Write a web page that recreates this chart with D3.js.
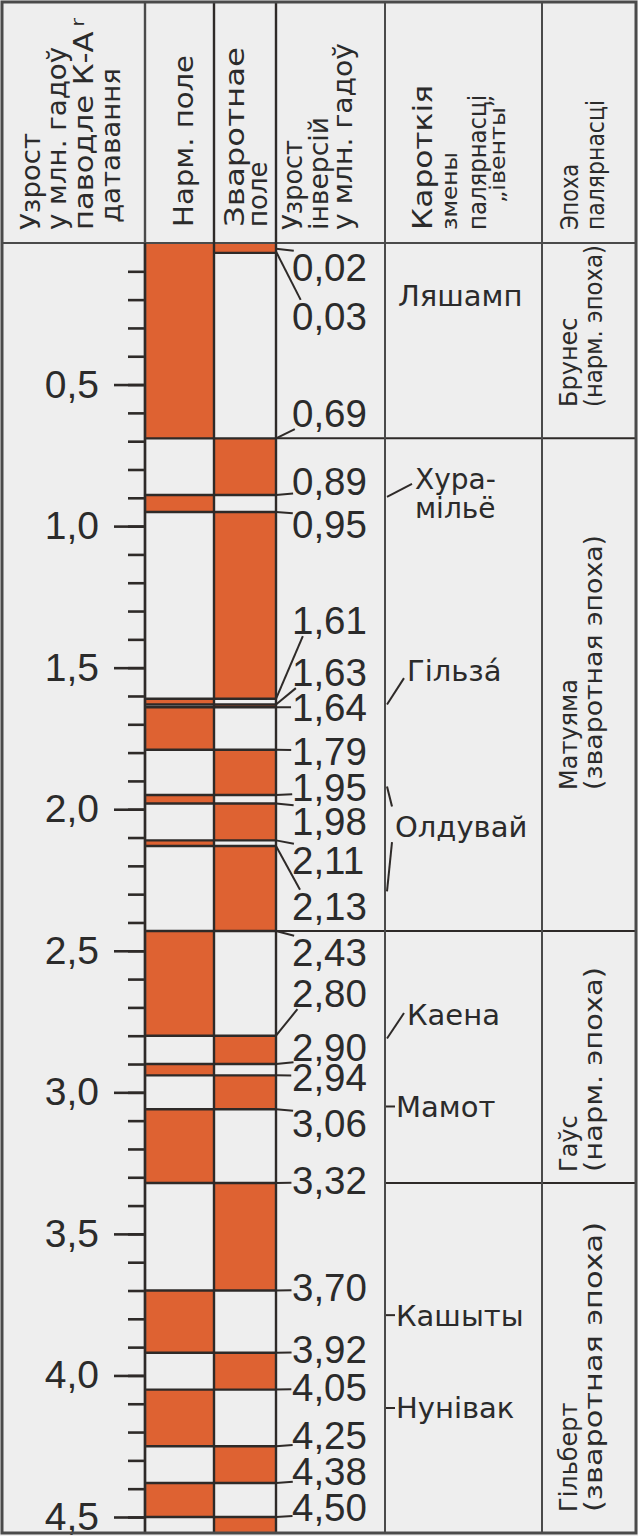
<!DOCTYPE html>
<html><head><meta charset="utf-8">
<script src="https://cdn.jsdelivr.net/npm/d3@7"></script>
<style>body{margin:0;background:#fff}svg{display:block}</style>
</head><body>
<script>
// ---------------- data ----------------
const inversions = ["0,02","0,03","0,69","0,89","0,95","1,61","1,63","1,64","1,79","1,95","1,98","2,11","2,13","2,43","2,80","2,90","2,94","3,06","3,32","3,70","3,92","4,05","4,25","4,38","4,50"];
const inversionAges = [0.02,0.03,0.69,0.89,0.95,1.61,1.63,1.64,1.79,1.95,1.98,2.11,2.13,2.43,2.80,2.90,2.94,3.06,3.32,3.70,3.92,4.05,4.25,4.38,4.50];
const normalIntervals = [[0,0.69],[0.89,0.95],[1.61,1.63],[1.64,1.79],[1.95,1.98],[2.11,2.13],[2.43,2.80],[2.90,2.94],[3.06,3.32],[3.70,3.92],[4.05,4.25],[4.38,4.50]];
const reversedIntervals = [[0,0.035],[0.69,0.89],[0.95,1.61],[1.63,1.64],[1.79,1.95],[1.98,2.11],[2.13,2.43],[2.80,2.90],[2.94,3.06],[3.32,3.70],[3.92,4.05],[4.25,4.38],[4.50,4.556]];
const majorTicks = [0.5,1.0,1.5,2.0,2.5,3.0,3.5,4.0,4.5];
const tickLabels = ["0,5","1,0","1,5","2,0","2,5","3,0","3,5","4,0","4,5"];
const eventNames = [["Ляшамп"],["Хура-","мільё"],["Гільза́"],["Олдувай"],["Каена"],["Мамот"],["Кашыты"],["Нунівак"]];
const epochNames = [["Брунес","(нарм. эпоха)"],["Матуяма","(зваротная эпоха)"],["Гаўс","(нарм. эпоха)"],["Гільберт","(зваротная эпоха)"]];
const epochBounds = [[0,0.69],[0.69,2.43],[2.43,3.32],[3.32,4.556]];
const headers = [
  ["Узрост","у млн. гадоў","паводле К-А","датавання"],
  ["Нарм. поле"],
  ["Зваротнае","поле"],
  ["Узрост","інверсій","у млн. гадоў"],
  ["Кароткія","змены","палярнасці","„івенты”"],
  ["Эпоха","палярнасці"]
];
// ---------------- layout (annotation placement) ----------------
const inversionLabelAt = [0.085,0.258,0.600,0.841,0.993,1.331,1.515,1.639,1.794,1.922,2.042,2.179,2.342,2.504,2.649,2.840,2.946,3.109,3.310,3.688,3.907,4.041,4.211,4.338,4.465];
const eventLabelAt = [0.187,0.885,1.51,2.06,2.727,3.05,3.787,4.115];
const eventLeaders = [[],[[0.897,0.851]],[[1.63,1.537]],[[1.92,1.99],[2.29,2.116]],[[2.81,2.72]],"dash","dash","dash"];
const eventX = [398,415,407,395,407,396,396,396];
const epochLabelBottom = [407,790,1172,1512];
const epochLen = [[null,162],[null,255],[null,205],[null,290]];
const epochLineStart = [276,276,385];
const hdrX=[[40,66,93,120],[193],[244,267],[302,328,352],[432,457,486,505],[578,604]];
const hdrSize=[[26,26,26,26],[27],[27,26],[26,26,26],[27,21,25,21],[24,24]];
const hdrBottom=[[230,230,230,223],[227],[227,227],[230,230,230],[230,230,230,203],[230,230]];
const hdrLen=[[97,183,212,155],[172],[180,null],[90,113,187],[145,78,135,108],[66,130]];

// ---------------- drawing ----------------
const W=638,H=1536;
const ORANGE="#DE6232", INK="#2e2a28", PAPER="#EEEEEE", GRID="#4a4a4a", TEXT="#2b2b2b";
const X={left:3,c1:145,c2:214,c3:276,c4:385,c5:542,right:635};
const yTop=243, yBot=1532;
const y=d3.scaleLinear().domain([0,4.5]).range([yTop,1517]);

const svg=d3.select("body").append("svg").attr("width",W).attr("height",H);
svg.append("rect").attr("width",W).attr("height",H).attr("fill",PAPER);

const NUM="'Liberation Sans', Arial, sans-serif";
const TXT="'DejaVu Sans', 'Noto Sans', sans-serif";

// bars
const bars=svg.append("g");
bars.selectAll(".n").data(normalIntervals).join("rect")
  .attr("x",X.c1).attr("width",X.c2-X.c1)
  .attr("y",d=>y(d[0])).attr("height",d=>Math.max(0,Math.min(y(d[1]),yBot)-y(d[0])))
  .attr("fill",ORANGE);
bars.selectAll(".r").data(reversedIntervals).join("rect")
  .attr("x",X.c2).attr("width",X.c3-X.c2)
  .attr("y",d=>y(d[0])).attr("height",d=>Math.max(0,Math.min(y(d[1]),yBot)-y(d[0])))
  .attr("fill",ORANGE);

// boundary lines across both polarity columns
const lines=svg.append("g").attr("stroke",INK).attr("stroke-width",2.4);
lines.selectAll("line.b").data(inversionAges.filter(a=>a>0.05)).join("line")
  .attr("x1",X.c1).attr("x2",X.c3+1).attr("y1",d=>y(d)).attr("y2",d=>y(d));
lines.append("line").attr("x1",X.c2).attr("x2",X.c3+1)
  .attr("y1",y(reversedIntervals[0][1])).attr("y2",y(reversedIntervals[0][1]));

// epoch boundaries across the right part
const epochLines=svg.append("g").attr("stroke",INK).attr("stroke-width",2);
epochLines.selectAll("line").data(epochBounds.slice(1).map(d=>d[0])).join("line")
  .attr("x1",(d,i)=>epochLineStart[i]).attr("x2",X.right).attr("y1",d=>y(d)).attr("y2",d=>y(d));

// axis ticks
const minorAxis=d3.axisLeft(y).ticks(45).tickSize(17).tickFormat("");
const gMinor=svg.append("g").attr("transform",`translate(${X.c1},0)`).call(minorAxis);
gMinor.select(".domain").remove();
gMinor.selectAll(".tick").filter(d=>d<0.05).remove();
gMinor.selectAll("line").attr("stroke",INK).attr("stroke-width",2.6);
const majorAxis=d3.axisLeft(y).tickValues(majorTicks).tickSize(31).tickPadding(15)
  .tickFormat((d,i)=>tickLabels[i]);
const gMajor=svg.append("g").attr("transform",`translate(${X.c1},0)`).call(majorAxis);
gMajor.select(".domain").remove();
gMajor.selectAll("line").attr("stroke",INK).attr("stroke-width",2.6);
gMajor.selectAll("text").attr("font-family",NUM).attr("font-size",39).attr("fill",TEXT);

// inversion labels + leaders
const inv=svg.append("g");
inversions.forEach((lab,i)=>{
  const yb=y(inversionAges[i]), yl=y(inversionLabelAt[i]);
  const dy=yl-yb;
  const off=Math.max(-18,Math.min(18,dy))*0.9;
  const ex=X.c3+15+Math.min(12,Math.abs(dy)*0.15);
  const ey=yl-off;
  inv.append("line").attr("x1",X.c3).attr("y1",yb).attr("x2",ex).attr("y2",ey)
    .attr("stroke",INK).attr("stroke-width",2);
  inv.append("text").attr("x",X.c3+16).attr("y",yl).attr("dy","0.36em")
    .attr("font-family",NUM).attr("font-size",38.5).attr("fill",TEXT).text(lab);
});

// event labels
const ev=svg.append("g");
eventNames.forEach((lines_,i)=>{
  const yc=y(eventLabelAt[i]);
  const n=lines_.length, lh=29;
  lines_.forEach((t,k)=>{
    ev.append("text").attr("x",eventX[i]).attr("y",yc+(k-(n-1)/2)*lh).attr("dy","0.36em")
      .attr("font-family",TXT).attr("font-size",n>1?28:29).attr("fill",TEXT).text(t);
  });
  const L=eventLeaders[i];
  if(L==="dash"){
    ev.append("line").attr("x1",X.c4+1).attr("x2",X.c4+10).attr("y1",yc).attr("y2",yc)
      .attr("stroke",INK).attr("stroke-width",2);
  } else {
    L.forEach(([a1,a2])=>{
      ev.append("line").attr("x1",X.c4+2).attr("y1",y(a1)).attr("x2",eventX[i]-3).attr("y2",y(a2))
        .attr("stroke",INK).attr("stroke-width",2);
    });
  }
});

// epoch labels (rotated)
const ep=svg.append("g");
epochNames.forEach((nm,i)=>{
  const yb=epochLabelBottom[i];
  [577,602].forEach((bx,k)=>{
    const t=ep.append("text").attr("transform",`translate(${bx},${yb}) rotate(-90)`)
      .attr("font-family",TXT).attr("font-size",24).attr("fill",TEXT).text(nm[k]);
    if(epochLen[i][k]) t.attr("textLength",epochLen[i][k]).attr("lengthAdjust","spacingAndGlyphs");
  });
});

// header texts (rotated)
const hd=svg.append("g");
headers.forEach((col,ci)=>{
  col.forEach((t,k)=>{
    const tx=hd.append("text").attr("transform",`translate(${hdrX[ci][k]},${hdrBottom[ci][k]}) rotate(-90)`)
      .attr("font-family",TXT).attr("font-size",hdrSize[ci][k]).attr("fill",TEXT).text(t);
    if(hdrLen[ci][k]) tx.attr("textLength",hdrLen[ci][k]).attr("lengthAdjust","spacingAndGlyphs");
    if(ci===0&&k===2) tx.append("tspan").attr("font-size",18).attr("dx",4).attr("dy",-9).text("r");
  });
});

// grid: outer frame, header rule, column dividers
const g=svg.append("g").attr("stroke",GRID).attr("fill","none");
g.append("line").attr("x1",X.left).attr("x2",X.right).attr("y1",yTop).attr("y2",yTop).attr("stroke-width",2.2);
[X.c1,X.c2,X.c3,X.c4,X.c5].forEach(x=>{
  g.append("line").attr("x1",x).attr("x2",x).attr("y1",3).attr("y2",yBot).attr("stroke-width",x===X.c4||x===X.c5?2:2.4)
   .attr("stroke",x<=X.c3&&x>X.c1?INK:GRID);
});
g.append("line").attr("x1",X.c1).attr("x2",X.c1).attr("y1",yTop).attr("y2",yBot).attr("stroke",INK).attr("stroke-width",2.4);
g.append("rect").attr("x",2).attr("y",2).attr("width",W-4).attr("height",yBot-1).attr("stroke-width",3);
</script>
</body></html>
